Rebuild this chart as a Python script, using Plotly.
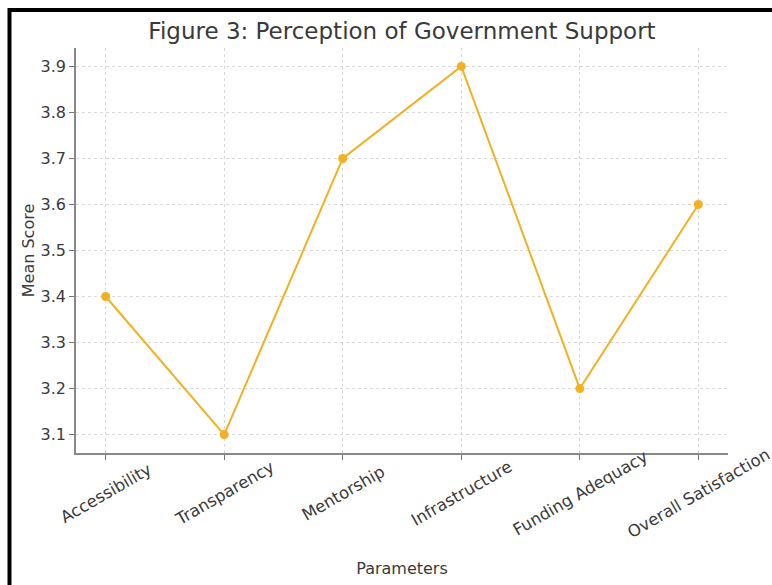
import plotly.graph_objects as go

categories = ["Accessibility", "Transparency", "Mentorship", "Infrastructure",
              "Funding Adequacy", "Overall Satisfaction"]
mean_scores = [3.4, 3.1, 3.7, 3.9, 3.2, 3.6]
y_ticks = [3.1, 3.2, 3.3, 3.4, 3.5, 3.6, 3.7, 3.8, 3.9]

W, H = 772, 585
L, R, T, B = 76, 44, 48, 132
plot_w, plot_h = W - L - R, H - T - B

def px_to_paper_x(px):
    return (px - L) / plot_w

def px_to_paper_y(py):
    return (H - B - py) / plot_h

FONT = "DejaVu Sans"
TEXT = "#3a3a3a"
LINE = "#F2B023"

fig = go.Figure()
fig.add_trace(go.Scatter(
    x=list(range(len(categories))), y=mean_scores,
    mode="lines+markers",
    line=dict(color=LINE, width=2),
    marker=dict(color=LINE, size=9),
    showlegend=False,
))

# rotated category labels centred under each tick
for i, c in enumerate(categories):
    fig.add_annotation(
        x=i, xref="x", y=px_to_paper_y(493), yref="paper",
        text=c, showarrow=False, textangle=-30,
        xanchor="center", yanchor="middle",
        font=dict(family=FONT, size=16.5, color=TEXT),
    )

# frame border of the original screenshot (top and left edges only)
fig.add_shape(
    type="line", xref="paper", yref="paper",
    x0=px_to_paper_x(8), x1=px_to_paper_x(W),
    y0=px_to_paper_y(10), y1=px_to_paper_y(10),
    line=dict(color="black", width=4), layer="above",
)
fig.add_shape(
    type="line", xref="paper", yref="paper",
    x0=px_to_paper_x(9.5), x1=px_to_paper_x(9.5),
    y0=px_to_paper_y(8), y1=px_to_paper_y(H),
    line=dict(color="black", width=4), layer="above",
)

fig.update_layout(
    width=W, height=H,
    margin=dict(l=L, r=R, t=T, b=B, autoexpand=False),
    paper_bgcolor="white", plot_bgcolor="white",
    font=dict(family=FONT, color=TEXT),
    title=dict(
        text="Figure 3: Perception of Government Support",
        x=0.5, xanchor="center", xref="paper",
        y=1 - 31 / H, yanchor="middle", yref="container",
        font=dict(family=FONT, size=23, color=TEXT),
    ),
    xaxis=dict(
        range=[-0.25, 5.25],
        tickmode="array", tickvals=list(range(len(categories))),
        showticklabels=False,
        ticks="outside", ticklen=5, tickwidth=1.2, tickcolor="#777",
        showline=True, linecolor="#888", linewidth=1.6,
        showgrid=True, gridcolor="#d9d9d9", griddash="dot", gridwidth=1,
        zeroline=False,
        title=dict(text="Parameters", standoff=104,
                   font=dict(family=FONT, size=16, color=TEXT)),
        automargin=False,
    ),
    yaxis=dict(
        range=[3.06, 3.94],
        tickmode="array", tickvals=y_ticks,
        ticktext=[f"{v:.1f}" for v in y_ticks],
        tickfont=dict(family=FONT, size=16, color=TEXT),
        ticks="outside", ticklen=5, tickwidth=1.2, tickcolor="#777",
        showline=True, linecolor="#888", linewidth=1.6,
        showgrid=True, gridcolor="#d9d9d9", griddash="dot", gridwidth=1,
        zeroline=False,
        title=dict(text="Mean Score", standoff=2,
                   font=dict(family=FONT, size=16, color=TEXT)),
        automargin=False,
    ),
)

fig.write_html("out.html")
